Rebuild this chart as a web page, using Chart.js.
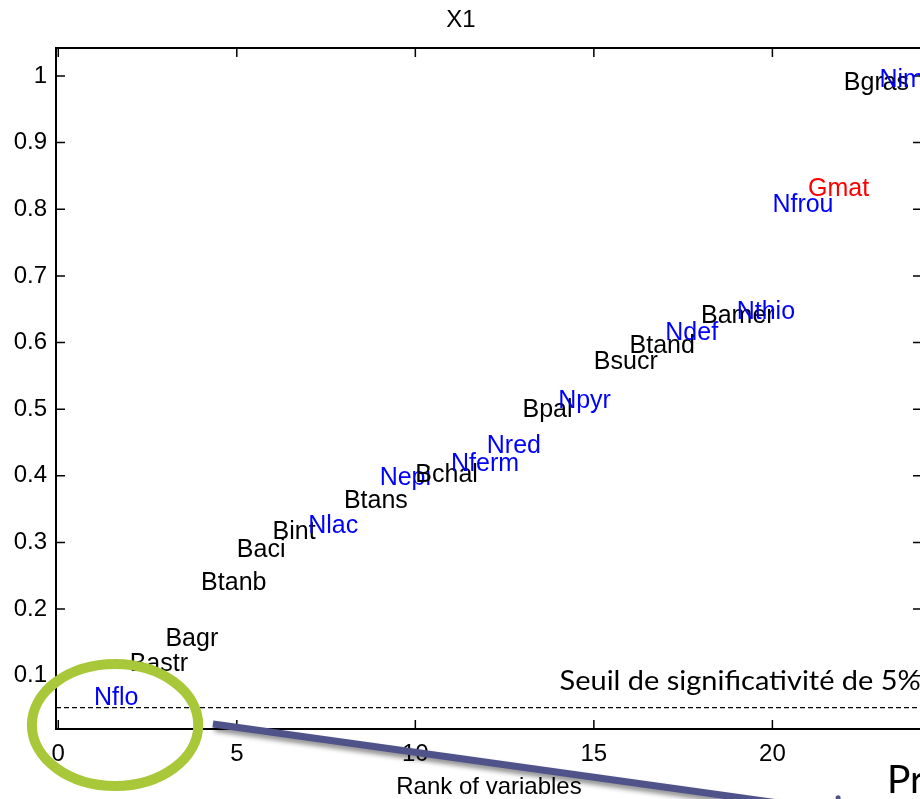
<!DOCTYPE html>
<html><head><meta charset="utf-8">
<script src="https://cdn.jsdelivr.net/npm/chart.js@4/dist/chart.umd.min.js"></script>
<style>
html,body{margin:0;padding:0;background:#fff;overflow:hidden;width:920px;height:799px}
#wrap{position:relative;width:940px;height:799px}
canvas{display:block}
</style>
</head><body><div id="wrap"><canvas id="c" width="940" height="799"></canvas></div>
<script>
// ---- data ----
const variableNames = ['Nflo','Bastr','Bagr','Btanb','Baci','Bint','Nlac','Btans','Nepi','Bchal','Nferm','Nred',
  'Bpal','Npyr','Bsucr','Btand','Ndef','Bamer','Nthio','Nfrou','Gmat','Bgras','Nimp'];
const ranks = [1,2,3,4,5,6,7,8,9,10,11,12,13,14,15,16,17,18,19,20,21,22,23];
const rValues = [0.067,0.118,0.155,0.239,0.288,0.315,0.325,0.362,0.397,0.401,0.418,0.444,
  0.499,0.512,0.571,0.594,0.614,0.640,0.645,0.806,0.830,0.989,0.994];
const xTickValues = [0,5,10,15,20];
const yTickValues = [0.1,0.2,0.3,0.4,0.5,0.6,0.7,0.8,0.9,1];
const threshold = 0.052;
const chartTitle = 'X1';
const xAxisTitle = 'Rank of variables';
const thresholdLabel = 'Seuil de significativité de 5%';
const overlayText = 'Pr';

// ---- styles ----
const prefixColors = {B:'#000000', N:'#0000ff', G:'#ff0000'};
const FONT = '"Liberation Sans", Arial, sans-serif';

const framePlugin = {
  id:'frame',
  beforeDatasetsDraw(chart){
    const {ctx, chartArea:a, scales:{x,y}} = chart;
    ctx.save();
    ctx.strokeStyle='#000';
    ctx.lineWidth=2;
    ctx.strokeRect(a.left, a.top, a.right-a.left, a.bottom-a.top);
    ctx.lineWidth=1.5;
    ctx.beginPath();
    xTickValues.forEach(v=>{
      const px = x.getPixelForValue(v);
      ctx.moveTo(px,a.bottom); ctx.lineTo(px,a.bottom-9);
      ctx.moveTo(px,a.top); ctx.lineTo(px,a.top+9);
    });
    yTickValues.forEach(v=>{
      const py = y.getPixelForValue(v);
      ctx.moveTo(a.left,py); ctx.lineTo(a.left+9,py);
      ctx.moveTo(a.right,py); ctx.lineTo(a.right-9,py);
    });
    ctx.stroke();
    ctx.setLineDash([5,3]);
    ctx.lineWidth=1.3;
    const ty = y.getPixelForValue(threshold);
    ctx.beginPath(); ctx.moveTo(a.left,ty); ctx.lineTo(a.right,ty); ctx.stroke();
    ctx.restore();
  },
  afterDatasetsDraw(chart){
    const ctx = chart.ctx;
    const meta = chart.getDatasetMeta(0);
    ctx.save();
    ctx.font = '25px ' + FONT;
    ctx.textAlign='left';
    ctx.textBaseline='middle';
    meta.data.forEach((el,i)=>{
      const name = variableNames[i];
      ctx.fillStyle = prefixColors[name[0]] || '#000';
      ctx.fillText(name, el.x, el.y);
    });
    ctx.restore();
  },
  afterDraw(chart){
    const {ctx, scales:{x,y}} = chart;
    ctx.save();
    // arrow-like connector with shadow
    ctx.shadowColor='rgba(0,0,0,0.45)';
    ctx.shadowBlur=5; ctx.shadowOffsetX=2; ctx.shadowOffsetY=4;
    ctx.strokeStyle='#50528a';
    ctx.lineWidth=7;
    ctx.beginPath();
    ctx.moveTo(x.getPixelForValue(4.33), y.getPixelForValue(0.0275));
    ctx.lineTo(x.getPixelForValue(26.38), y.getPixelForValue(-0.1376));
    ctx.stroke();
    ctx.shadowColor='transparent';
    ctx.fillStyle='#50528a';
    ctx.beginPath();
    ctx.arc(x.getPixelForValue(21.84), y.getPixelForValue(-0.083), 2.5, 0, Math.PI*2);
    ctx.fill();
    // highlight ellipse
    const cx = x.getPixelForValue(1.59), cy = y.getPixelForValue(0.026);
    const rx = x.getPixelForValue(1.59+2.33)-cx, ry = cy - y.getPixelForValue(0.026+0.0915);
    ctx.strokeStyle='#a8c83a';
    ctx.lineWidth=10;
    ctx.beginPath();
    ctx.ellipse(cx, cy, rx, ry, 0, 0, Math.PI*2);
    ctx.stroke();
    // threshold label
    ctx.fillStyle='#000';
    ctx.font='27px Lato, "Open Sans", sans-serif';
    ctx.textAlign='left'; ctx.textBaseline='alphabetic';
    const tx = x.getPixelForValue(14.04), tyy = y.getPixelForValue(0.0785);
    const part = thresholdLabel.slice(0, thresholdLabel.length-1);
    const sx = 338 / ctx.measureText(part).width;
    ctx.save();
    ctx.translate(tx, tyy); ctx.scale(sx,1);
    ctx.fillText(thresholdLabel, 0, 0);
    ctx.restore();
    // slide overlay text
    ctx.font='39px Lato, "Open Sans", sans-serif';
    ctx.fillText(overlayText, x.getPixelForValue(23.21), y.getPixelForValue(-0.076));
    ctx.restore();
  }
};

const tickFont = {family:FONT, size:24, weight:'normal'};
new Chart(document.getElementById('c'), {
  type:'scatter',
  data:{datasets:[{
    data: ranks.map((r,i)=>({x:r, y:rValues[i]})),
    pointRadius:0, pointHoverRadius:0, showLine:false
  }]},
  options:{
    responsive:false, animation:false, events:[],
    layout:{padding:{left:0,right:18,top:0,bottom:0}},
    plugins:{
      legend:{display:false}, tooltip:{enabled:false},
      title:{display:true, text:chartTitle, color:'#000',
        font:{family:FONT, size:24, weight:'normal', lineHeight:1.2},
        padding:{top:6,bottom:13.2}}
    },
    scales:{
      x:{type:'linear', min:-0.064, max:24.19,
        afterBuildTicks(s){ s.ticks = xTickValues.map(v=>({value:v})); },
        afterFit(s){ s.height = 70; },
        grid:{display:false, drawTicks:false}, border:{display:false},
        ticks:{color:'#000', font:tickFont, padding:11, maxRotation:0, autoSkip:false,
          callback:v=>String(v)},
        title:{display:true, text:xAxisTitle, color:'#000',
          font:{family:FONT, size:24, weight:'normal', lineHeight:1}, padding:0}
      },
      y:{type:'linear', min:0.02, max:1.042,
        afterBuildTicks(s){ s.ticks = yTickValues.map(v=>({value:v})); },
        afterFit(s){ s.width = 56; },
        grid:{display:false, drawTicks:false}, border:{display:false},
        ticks:{color:'#000', font:tickFont, padding:9, autoSkip:false,
          callback:v=>String(v)}
      }
    }
  },
  plugins:[framePlugin]
});
</script>
</body></html>
